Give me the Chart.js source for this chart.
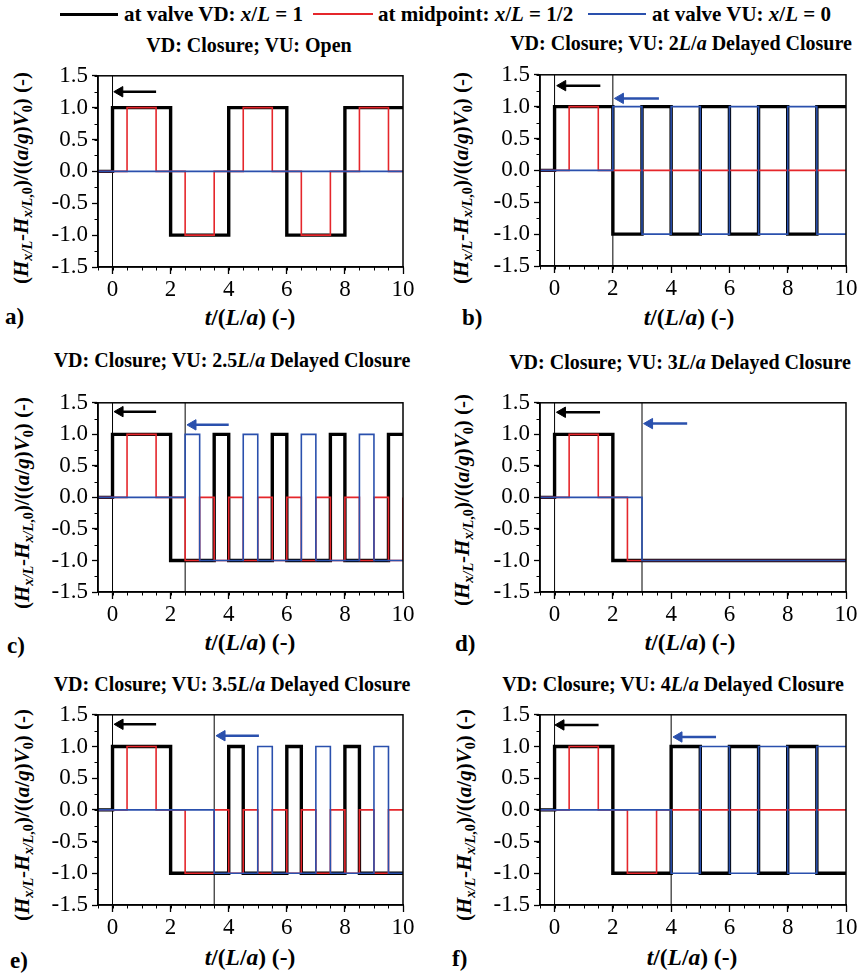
<!DOCTYPE html>
<html>
<head>
<meta charset="utf-8">
<title>Valve closure transients</title>
<script src="https://cdn.jsdelivr.net/npm/chart.js@4.4.1/dist/chart.umd.min.js"></script>
<style>
  body { margin: 0; width: 861px; height: 976px; background: #fff; position: relative; overflow: hidden;
         font-family: "Liberation Serif", "Times New Roman", serif; color: #000; }
  canvas { position: absolute; }
  .t { position: absolute; transform: translate(-50%, -50%); white-space: nowrap; font-weight: bold; line-height: 1; }
  .ttl { font-size: 20px; }
  .xt { font-size: 23.5px; }
  .yt { font-size: 21px; transform: translate(-50%, -50%) rotate(-90deg); }
  .lab { font-size: 23px; transform: translate(0, -50%); }
  .leg { font-size: 21px; transform: translate(0, -50%); }
  .sw { position: absolute; height: 3px; }
  sub { font-size: 68%; vertical-align: -0.3em; line-height: 0; }
</style>
</head>
<body>

<!-- legend -->
<div class="sw" style="left:60px; top:13px; width:58px; background:#000;"></div>
<div class="t leg" style="left:124px; top:14px;">at valve VD: <i>x</i>/<i>L</i> = 1</div>
<div class="sw" style="left:313px; top:13px; width:60px; height:2px; background:#e5262b;"></div>
<div class="t leg" style="left:378px; top:14px;">at midpoint: <i>x</i>/<i>L</i> = 1/2</div>
<div class="sw" style="left:588px; top:13px; width:58px; height:2px; background:#2a50ad;"></div>
<div class="t leg" style="left:652px; top:14px;">at valve VU: <i>x</i>/<i>L</i> = 0</div>

<!-- panel titles -->
<div class="t ttl" style="left:249px; top:45px;">VD: Closure; VU: Open</div>
<div class="t ttl" style="left:681px; top:43px;">VD: Closure; VU: 2<i>L</i>/<i>a</i> Delayed Closure</div>
<div class="t ttl" style="left:232px; top:360px;">VD: Closure; VU: 2.5<i>L</i>/<i>a</i> Delayed Closure</div>
<div class="t ttl" style="left:680px; top:362px;">VD: Closure; VU: 3<i>L</i>/<i>a</i> Delayed Closure</div>
<div class="t ttl" style="left:232px; top:684px;">VD: Closure; VU: 3.5<i>L</i>/<i>a</i> Delayed Closure</div>
<div class="t ttl" style="left:673px; top:684px;">VD: Closure; VU: 4<i>L</i>/<i>a</i> Delayed Closure</div>

<!-- y axis titles -->
<div class="t yt" style="left:21px; top:178px;">(<i>H</i><sub><i>x/L</i></sub>-<i>H</i><sub><i>x/L</i>,0</sub>)/((<i>a</i>/<i>g</i>)<i>V</i><sub>0</sub>) (-)</div>
<div class="t yt" style="left:461px; top:178px;">(<i>H</i><sub><i>x/L</i></sub>-<i>H</i><sub><i>x/L</i>,0</sub>)/((<i>a</i>/<i>g</i>)<i>V</i><sub>0</sub>) (-)</div>
<div class="t yt" style="left:22px; top:503px;">(<i>H</i><sub><i>x/L</i></sub>-<i>H</i><sub><i>x/L</i>,0</sub>)/((<i>a</i>/<i>g</i>)<i>V</i><sub>0</sub>) (-)</div>
<div class="t yt" style="left:462px; top:500px;">(<i>H</i><sub><i>x/L</i></sub>-<i>H</i><sub><i>x/L</i>,0</sub>)/((<i>a</i>/<i>g</i>)<i>V</i><sub>0</sub>) (-)</div>
<div class="t yt" style="left:22px; top:815px;">(<i>H</i><sub><i>x/L</i></sub>-<i>H</i><sub><i>x/L</i>,0</sub>)/((<i>a</i>/<i>g</i>)<i>V</i><sub>0</sub>) (-)</div>
<div class="t yt" style="left:464px; top:815px;">(<i>H</i><sub><i>x/L</i></sub>-<i>H</i><sub><i>x/L</i>,0</sub>)/((<i>a</i>/<i>g</i>)<i>V</i><sub>0</sub>) (-)</div>

<!-- x axis titles and panel letters -->
<div class="t xt" style="left:250px; top:318px;"><i>t</i>/(<i>L</i>/<i>a</i>) (-)</div>
<div class="t xt" style="left:689px; top:318px;"><i>t</i>/(<i>L</i>/<i>a</i>) (-)</div>
<div class="t xt" style="left:250px; top:643px;"><i>t</i>/(<i>L</i>/<i>a</i>) (-)</div>
<div class="t xt" style="left:690px; top:643px;"><i>t</i>/(<i>L</i>/<i>a</i>) (-)</div>
<div class="t xt" style="left:250px; top:958px;"><i>t</i>/(<i>L</i>/<i>a</i>) (-)</div>
<div class="t xt" style="left:692px; top:958px;"><i>t</i>/(<i>L</i>/<i>a</i>) (-)</div>
<div class="t lab" style="left:5px; top:316px;">a)</div>
<div class="t lab" style="left:462px; top:317px;">b)</div>
<div class="t lab" style="left:7px; top:645px;">c)</div>
<div class="t lab" style="left:455px; top:643px;">d)</div>
<div class="t lab" style="left:10px; top:960px;">e)</div>
<div class="t lab" style="left:452px; top:958px;">f)</div>

<canvas id="pa" width="369" height="243" style="left:48px; top:58px;"></canvas>
<canvas id="pb" width="370" height="243" style="left:490px; top:57px;"></canvas>
<canvas id="pc" width="369" height="241" style="left:48px; top:385px;"></canvas>
<canvas id="pd" width="370" height="241" style="left:490px; top:385px;"></canvas>
<canvas id="pe" width="369" height="242" style="left:48px; top:697px;"></canvas>
<canvas id="pf" width="370" height="242" style="left:490px; top:697px;"></canvas>

<script>
// axis ranges and tick labels
const tRange = [-0.5, 10];
const hRange = [-1.5, 1.5];
const xTickLabels = [0, 2, 4, 6, 8, 10];
const yTickLabels = [-1.5, -1.0, -0.5, 0.0, 0.5, 1.0, 1.5];

// step series: [time at which the level starts, level]
// a) VU open
const aVD  = [[-0.5,0],[0,1],[2,-1],[4,1],[6,-1],[8,1],[10,1]];
const aMID = [[-0.5,0],[0.5,1],[1.5,0],[2.5,-1],[3.5,0],[4.5,1],[5.5,0],[6.5,-1],[7.5,0],[8.5,1],[9.5,0],[10,0]];
const aVU  = [[-0.5,0],[10,0]];
// b) VU closes at 2L/a
const bVD  = [[-0.5,0],[0,1],[2,-1],[3,1],[4,-1],[5,1],[6,-1],[7,1],[8,-1],[9,1],[10,1]];
const bMID = [[-0.5,0],[0.5,1],[1.5,0],[10,0]];
const bVU  = [[-0.5,0],[2,1],[3,-1],[4,1],[5,-1],[6,1],[7,-1],[8,1],[9,-1],[10,-1]];
// c) VU closes at 2.5L/a
const cVD  = [[-0.5,0],[0,1],[2,-1],[3.5,1],[4,-1],[5.5,1],[6,-1],[7.5,1],[8,-1],[9.5,1],[10,1]];
const cMID = [[-0.5,0],[0.5,1],[1.5,0],[2.5,-1],[3,0],[3.5,-1],[4,0],[4.5,-1],[5,0],[5.5,-1],[6,0],
              [6.5,-1],[7,0],[7.5,-1],[8,0],[8.5,-1],[9,0],[9.5,-1],[10,0]];
const cVU  = [[-0.5,0],[2.5,1],[3,-1],[4.5,1],[5,-1],[6.5,1],[7,-1],[8.5,1],[9,-1],[10,-1]];
// d) VU closes at 3L/a
const dVD  = [[-0.5,0],[0,1],[2,-1],[10,-1]];
const dMID = [[-0.5,0],[0.5,1],[1.5,0],[2.5,-1],[10,-1]];
const dVU  = [[-0.5,0],[3,-1],[10,-1]];
// e) VU closes at 3.5L/a
const eVD  = [[-0.5,0],[0,1],[2,-1],[4,1],[4.5,-1],[6,1],[6.5,-1],[8,1],[8.5,-1],[10,-1]];
const eMID = [[-0.5,0],[0.5,1],[1.5,0],[2.5,-1],[3.5,0],[4,-1],[4.5,0],[5,-1],[5.5,0],[6,-1],[6.5,0],
              [7,-1],[7.5,0],[8,-1],[8.5,0],[9,-1],[9.5,0],[10,0]];
const eVU  = [[-0.5,0],[3.5,-1],[5,1],[5.5,-1],[7,1],[7.5,-1],[9,1],[9.5,-1],[10,-1]];
// f) VU closes at 4L/a
const fVD  = [[-0.5,0],[0,1],[2,-1],[4,1],[5,-1],[6,1],[7,-1],[8,1],[9,-1],[10,-1]];
const fMID = [[-0.5,0],[0.5,1],[1.5,0],[2.5,-1],[3.5,0],[10,0]];
const fVU  = [[-0.5,0],[4,-1],[5,1],[6,-1],[7,1],[8,-1],[9,1],[10,1]];

// vertical marker times (VD closure at 0, VU closure)
const aMarks = [0];
const bMarks = [0, 2];
const cMarks = [0, 2.5];
const dMarks = [0, 3];
const eMarks = [0, 3.5];
const fMarks = [0, 4];

// arrows: [tail t, tip t, level]; first one is VD (black), second VU (blue)
const aArrows = [[1.5, 0.05, 1.25]];
const bArrows = [[1.57, 0.08, 1.33], [3.58, 2.06, 1.13]];
const cArrows = [[1.5, 0.06, 1.36], [4.0, 2.57, 1.15]];
const dArrows = [[1.56, 0.07, 1.35], [4.55, 3.06, 1.17]];
const eArrows = [[1.5, 0.06, 1.35], [5.04, 3.57, 1.17]];
const fArrows = [[1.51, 0.02, 1.34], [5.54, 4.07, 1.15]];

const BLACK = '#000000';
const RED = '#e5262b';
const BLUE = '#2a50ad';
const SERIF = '"Liberation Serif", "Times New Roman", serif';

const toPts = arr => arr.map(p => ({ x: p[0], y: p[1] }));

// closes the box round the plot area and adds the short minor ticks
const frame = {
    id: 'frame',
    afterDraw(chart) {
        const { ctx, chartArea: a, scales: { x, y } } = chart;
        ctx.save();
        ctx.strokeStyle = '#000';
        ctx.lineWidth = 1.5;
        ctx.strokeRect(a.left, a.top, a.right - a.left, a.bottom - a.top);
        ctx.lineWidth = 1;
        ctx.beginPath();
        for (let v = tRange[0]; v <= tRange[1]; v += 0.5) {
            const px = Math.round(x.getPixelForValue(v)) + 0.5;
            ctx.moveTo(px, a.bottom);
            ctx.lineTo(px, a.bottom + 3.5);
        }
        for (let v = hRange[0]; v <= hRange[1]; v += 0.25) {
            const py = Math.round(y.getPixelForValue(v)) + 0.5;
            ctx.moveTo(a.left, py);
            ctx.lineTo(a.left - 3.5, py);
        }
        ctx.stroke();
        ctx.restore();
    }
};

function makePanel(id, vd, mid, vu, marks, arrows) {
    const datasets = [
        { data: toPts(vu), borderColor: BLUE, borderWidth: 1.6, stepped: 'before', order: 1 },
        { data: toPts(mid), borderColor: RED, borderWidth: 1.6, stepped: 'before', order: 2 },
        { data: toPts(vd), borderColor: BLACK, borderWidth: 3.4, stepped: 'before', order: 3 }
    ];
    marks.forEach(t => {
        datasets.push({ data: [{ x: t, y: hRange[0] }, { x: t, y: hRange[1] }],
                        borderColor: BLACK, borderWidth: 1, order: 4 });
    });
    arrows.forEach((ar, i) => {
        const col = i === 0 ? BLACK : BLUE;
        datasets.push({
            data: [{ x: ar[0], y: ar[2] }, { x: ar[1] + 0.2, y: ar[2] }],
            borderColor: col, borderWidth: 2.5, order: 0,
            pointRadius: [0, 6], pointStyle: 'triangle', rotation: -90,
            pointBackgroundColor: col, pointBorderColor: col, pointBorderWidth: 1
        });
    });

    new Chart(document.getElementById(id), {
        type: 'line',
        data: { datasets },
        plugins: [frame],
        options: {
            responsive: false,
            animation: false,
            events: [],
            layout: { padding: { top: 14, right: 14, left: 0, bottom: 0 } },
            elements: { point: { radius: 0 }, line: { tension: 0 } },
            plugins: { legend: { display: false }, tooltip: { enabled: false } },
            scales: {
                x: {
                    type: 'linear', min: tRange[0], max: tRange[1],
                    afterFit: s => { s.height = 34; },
                    afterBuildTicks: s => { s.ticks = xTickLabels.map(v => ({ value: v })); },
                    ticks: {
                        autoSkip: false, maxRotation: 0, minRotation: 0,
                        padding: 2, color: '#000', font: { family: SERIF, size: 23 },
                        callback: v => String(v)
                    },
                    grid: { drawOnChartArea: false, tickLength: 7, tickColor: '#000', tickWidth: 1.3 },
                    border: { color: '#000', width: 1.5 }
                },
                y: {
                    type: 'linear', min: hRange[0], max: hRange[1],
                    afterFit: s => { s.width = 50; },
                    afterBuildTicks: s => { s.ticks = yTickLabels.map(v => ({ value: v })); },
                    ticks: {
                        autoSkip: false, padding: 4, color: '#000',
                        font: { family: SERIF, size: 23 },
                        callback: v => v.toFixed(1)
                    },
                    grid: { drawOnChartArea: false, tickLength: 6, tickColor: '#000', tickWidth: 1.3 },
                    border: { color: '#000', width: 1.5 }
                }
            }
        }
    });
}

function drawAll() {
    makePanel('pa', aVD, aMID, aVU, aMarks, aArrows);
    makePanel('pb', bVD, bMID, bVU, bMarks, bArrows);
    makePanel('pc', cVD, cMID, cVU, cMarks, cArrows);
    makePanel('pd', dVD, dMID, dVU, dMarks, dArrows);
    makePanel('pe', eVD, eMID, eVU, eMarks, eArrows);
    makePanel('pf', fVD, fMID, fVU, fMarks, fArrows);
}

// make sure the serif face is ready before the canvases use it
document.fonts.load('23px "Liberation Serif"').then(drawAll, drawAll);
</script>
</body>
</html>
